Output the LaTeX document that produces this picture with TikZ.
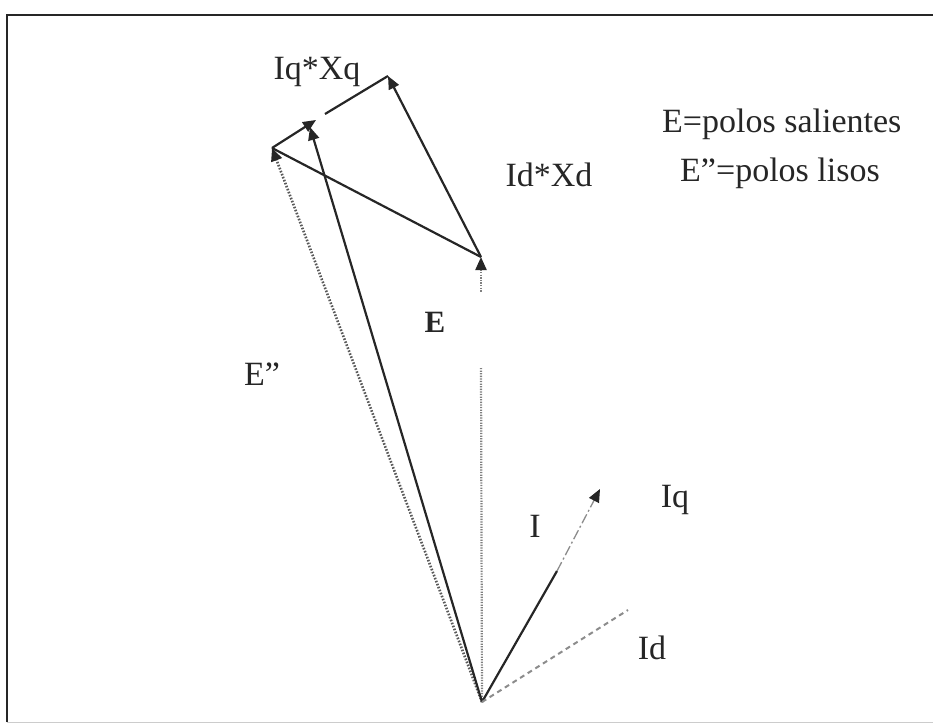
\documentclass[tikz,border=0pt]{standalone}
\usepackage{fontspec}
\setmainfont{Liberation Serif}
\usetikzlibrary{arrows.meta}
\begin{document}
\begin{tikzpicture}[x=1pt,y=-1pt,
  lbl/.style={font=\fontsize{34}{38}\selectfont, inner sep=0pt, text=black!85},
  solidvec/.style={line width=2.2pt, draw=black!85},
  dotvec/.style={line width=2.6pt, draw=black!65, dash pattern=on 1.6pt off 1.6pt},
  lightdot/.style={line width=2.2pt, draw=black!50, dash pattern=on 1.3pt off 1.3pt},
  dashvec/.style={line width=2pt, draw=black!45, dash pattern=on 5pt off 4pt},
  dashdotvec/.style={line width=1.3pt, draw=black!45, dash pattern=on 10pt off 3pt on 2pt off 3pt},
  tip/.style={-{Triangle[length=13pt,width=11pt,color=black!85]}},
  rtip/.style={{Triangle[length=13pt,width=11pt,color=black!85]}-},
  frame/.style={line width=2.6pt, draw=black!85}]
\useasboundingbox (0,0) rectangle (933,727);
% frame
\draw[frame] (7,722) -- (7,15) -- (933,15);
\draw[line width=1pt, draw=black!20] (7,722) -- (933,722);
% points
\coordinate (O) at (482,702);
\coordinate (Et) at (481,257);
\coordinate (Eg1) at (481,292);
\coordinate (Eg2) at (481,368);
\coordinate (A) at (272,148);
\coordinate (S) at (310,127);
\coordinate (B) at (316,120);
\coordinate (B2) at (325,114);
\coordinate (C) at (388,76);
\coordinate (I1) at (557,571);
\coordinate (Itip) at (600,489);
\coordinate (Id) at (628,610);
% E (dotted vertical, with gap)
\draw[lightdot] (O) -- (Eg2);
\draw[lightdot, rtip] (Et) -- (Eg1);
% E''
\draw[dotvec, tip] (O) -- (A);
% solid vector from origin
\draw[solidvec, tip] (O) -- (S);
% triangle
\draw[solidvec] (A) -- (Et);
\draw[solidvec, tip] (A) -- (B);
\draw[solidvec] (B2) -- (C);
\draw[solidvec, tip] (Et) -- (C);
% I
\draw[solidvec] (O) -- (I1);
\draw[dashdotvec, tip] (I1) -- (Itip);
% Id
\draw[dashvec] (O) -- (Id);
% labels
\node[lbl] (lIqXq) at (317,72) {Iq*Xq};
\node[lbl] (lIdXd) at (549,175) {Id*Xd};
\node[lbl, anchor=base west] (lsal) at (662,133) {E=polos salientes};
\node[lbl, anchor=base west] (lliso) at (680,182) {E”=polos lisos};
\node[lbl, font=\fontsize{31}{34}\selectfont\bfseries] (lE) at (435,322) {E};
\node[lbl] (lEpp) at (262,374) {E”};
\node[lbl] (lI) at (535,526) {I};
\node[lbl] (lIq) at (675,500) {Iq};
\node[lbl] (lId) at (652,648) {Id};
\end{tikzpicture}
\end{document}
